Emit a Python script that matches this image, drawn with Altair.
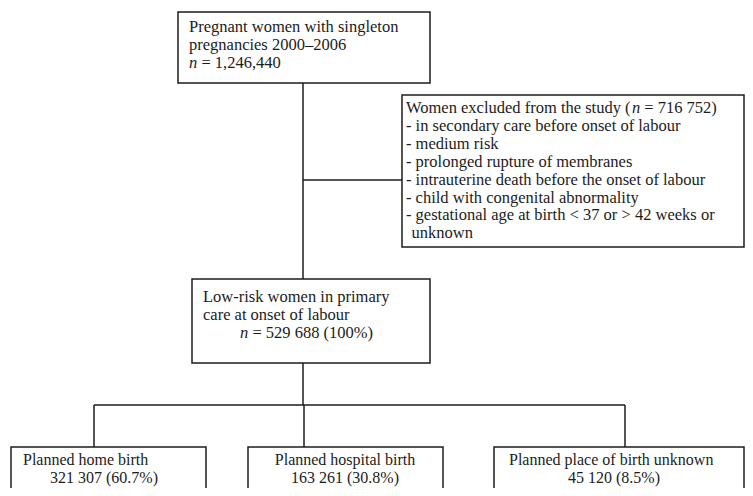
import altair as alt
import pandas as pd

# ---------------- content ----------------
top_lines = ["Pregnant women with singleton", "pregnancies 2000\u20132006"]
top_n = "1,246,440"
excl_header = "Women excluded from the study ("
excl_n = "716 752"
excl_items = [
    "- in secondary care before onset of labour",
    "- medium risk",
    "- prolonged rupture of membranes",
    "- intrauterine death before the onset of labour",
    "- child with congenital abnormality",
    "- gestational age at birth < 37 or > 42 weeks or",
    "unknown",
]
lowrisk_lines = ["Low-risk women in primary", "care at onset of labour"]
lowrisk_n = "529 688"
lowrisk_pct = "100%"
groups = ["Planned home birth", "Planned hospital birth", "Planned place of birth unknown"]
group_counts = ["321 307", "163 261", "45 120"]
group_pcts = ["60.7%", "30.8%", "8.5%"]

# ---------------- layout (page pixels) ----------------
OX, OY = 8, 8
W, H = 737, 480          # fits inside the 753x496 window with its 8px margins
FS = 16.5
FS_B = 16
FONT = "Liberation Serif"
INK = "#1c1c1c"
RIGHT = OX + W - 1       # right-most drawable position

# Times metrics (per 1000 em) for offsetting the italic n
TW = {" ": 250, "(": 333, ")": 333, "=": 564, ",": 250, ".": 250, "%": 833, "n": 500, "-": 333}
for c in "0123456789":
    TW[c] = 500
TW.update(dict(a=444, b=500, c=444, d=500, e=444, f=333, g=500, h=500, i=278, j=278,
               k=500, l=278, m=778, o=500, p=500, q=500, r=333, s=389, t=278, u=500,
               v=500, w=722, x=500, y=500, z=444, W=944))


def tw(s):
    return sum(TW.get(ch, 500) for ch in s) * FS / 1000.0


boxes = pd.DataFrame([
    dict(x=178, x2=430, y=12, y2=83),        # all pregnancies
    dict(x=402, x2=RIGHT, y=95, y2=247),     # excluded
    dict(x=192, x2=430, y=279, y2=363),      # low-risk
    dict(x=11, x2=206, y=447, y2=520),       # home
    dict(x=248, x2=443, y=447, y2=520),      # hospital
    dict(x=494, x2=RIGHT, y=447, y2=520),    # unknown
])

rules = pd.DataFrame([
    dict(x=303, x2=303, y=83, y2=279),
    dict(x=303, x2=402, y=180, y2=180),
    dict(x=303, x2=303, y=363, y2=405),
    dict(x=94, x2=625, y=405, y2=405),
    dict(x=94, x2=94, y=405, y2=447),
    dict(x=304, x2=304, y=405, y2=447),
    dict(x=625, x2=625, y=405, y2=447),
])

EQ = "= "
GAP = tw(" ")
left_txt, ital_txt, center_txt = [], [], []
bleft_txt, bcenter_txt = [], []

# top box
for i, s in enumerate(top_lines):
    left_txt.append(dict(x=189, y=32 + 18 * i, t=s))
ital_txt.append(dict(x=189, y=68, t="n"))
left_txt.append(dict(x=189 + tw("n") + GAP, y=68, t=EQ + top_n))

# excluded box
ex0 = 406
ey = 113
left_txt.append(dict(x=ex0, y=ey, t=excl_header))
ital_txt.append(dict(x=ex0 + tw(excl_header), y=ey, t="n"))
left_txt.append(dict(x=ex0 + tw(excl_header) + tw("n") + GAP, y=ey, t=EQ + excl_n + ")"))
for i, s in enumerate(excl_items):
    xx = ex0 if s.startswith("-") else ex0 + tw("-")
    left_txt.append(dict(x=xx, y=ey + 17.9 * (i + 1), t=s))

# low-risk box
for i, s in enumerate(lowrisk_lines):
    left_txt.append(dict(x=203, y=302 + 18 * i, t=s))
ital_txt.append(dict(x=240, y=338, t="n"))
left_txt.append(dict(x=240 + tw("n") + GAP, y=338, t=EQ + lowrisk_n + " (" + lowrisk_pct + ")"))

# bottom boxes
B1, B2 = 465, 483
bleft_txt.append(dict(x=23, y=B1, t=groups[0]))
bleft_txt.append(dict(x=50, y=B2, t=group_counts[0] + " (" + group_pcts[0] + ")"))
bcenter_txt.append(dict(x=345, y=B1, t=groups[1]))
bcenter_txt.append(dict(x=345, y=B2, t=group_counts[1] + " (" + group_pcts[1] + ")"))
bleft_txt.append(dict(x=509, y=B1, t=groups[2]))
bcenter_txt.append(dict(x=614, y=B2, t=group_counts[2] + " (" + group_pcts[2] + ")"))

xs = alt.Scale(domain=[OX, OX + W], nice=False, zero=False)
ys = alt.Scale(domain=[OY, OY + H], nice=False, zero=False, reverse=True)
X = alt.X("x:Q", scale=xs, axis=None)
Y = alt.Y("y:Q", scale=ys, axis=None)

rule_layer = alt.Chart(rules).mark_rule(color=INK, strokeWidth=1.5, clip=True).encode(
    x=X, x2="x2:Q", y=Y, y2="y2:Q")
box_layer = alt.Chart(boxes).mark_rect(fill="white", stroke=INK, strokeWidth=1.5, clip=True).encode(
    x=X, x2="x2:Q", y=Y, y2="y2:Q")

tkw = dict(font=FONT, fontSize=FS, color=INK, baseline="alphabetic")
bkw = dict(font=FONT, fontSize=FS_B, color=INK, baseline="alphabetic")
t_left = alt.Chart(pd.DataFrame(left_txt)).mark_text(align="left", **tkw).encode(x=X, y=Y, text="t:N")
t_ital = alt.Chart(pd.DataFrame(ital_txt)).mark_text(align="left", fontStyle="italic", **tkw).encode(
    x=X, y=Y, text="t:N")
b_left = alt.Chart(pd.DataFrame(bleft_txt)).mark_text(align="left", **bkw).encode(x=X, y=Y, text="t:N")
b_center = alt.Chart(pd.DataFrame(bcenter_txt)).mark_text(align="center", **bkw).encode(
    x=X, y=Y, text="t:N")

chart = alt.layer(rule_layer, box_layer, t_left, t_ital, b_left, b_center).properties(
    width=W, height=H, padding=0, autosize=alt.AutoSizeParams(type="none"),
    background="white"
).configure_view(stroke=None)

chart.save("out.html", embed_options={"renderer": "svg", "actions": False})
